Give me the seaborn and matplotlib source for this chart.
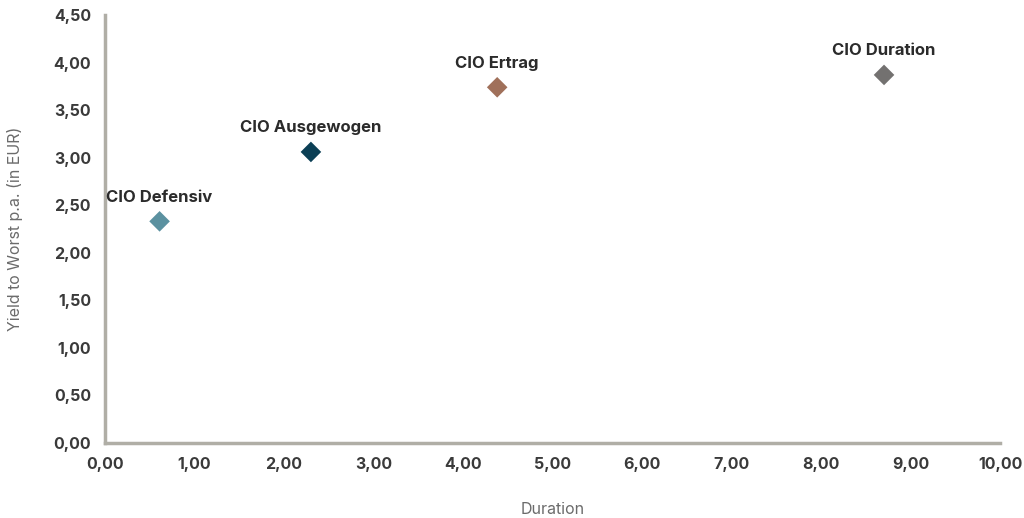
import matplotlib
matplotlib.use("Agg")
import matplotlib.pyplot as plt
import seaborn as sns
import pandas as pd

names = ["CIO Defensiv", "CIO Ausgewogen", "CIO Ertrag", "CIO Duration"]
duration = [0.61, 2.30, 4.38, 8.70]
ytw = [2.33, 3.06, 3.74, 3.87]
colors = ["#5b91a0", "#0b3f55", "#a0705a", "#737170"]
xticks = [0, 1, 2, 3, 4, 5, 6, 7, 8, 9, 10]
yticks = [0, 0.5, 1, 1.5, 2, 2.5, 3, 3.5, 4, 4.5]

sns.set_theme(style="white")
plt.rcParams['font.family'] = ['Inter', 'DejaVu Sans']

df = pd.DataFrame({"name": names, "Duration": duration, "YTW": ytw})

fig = plt.figure(figsize=(10.24, 5.18), dpi=100)
ax = fig.add_axes([0.1025, 0.145, 0.8745, 0.826])
sns.scatterplot(data=df, x="Duration", y="YTW", hue="name", palette=colors,
                marker="D", s=110, edgecolor="none", legend=False, ax=ax)

for n, x, y in zip(names, duration, ytw):
    ax.annotate(n, (x, y), xytext=(0, 12), textcoords="offset points",
                ha="center", va="bottom", fontsize=12, fontweight="bold", color="#2b2b2b")

ax.set_xlim(0, 10)
ax.set_ylim(0, 4.5)
ax.set_xticks(xticks)
ax.set_yticks(yticks)
ax.set_xticklabels([f"{v:.2f}".replace(".", ",") for v in xticks])
ax.set_yticklabels([f"{v:.2f}".replace(".", ",") for v in yticks])
ax.tick_params(axis="both", length=0, labelsize=11.5, labelcolor="#3a3a3a", pad=10)
for lab in ax.get_xticklabels() + ax.get_yticklabels():
    lab.set_fontweight("bold")

for s in ["top", "right"]:
    ax.spines[s].set_visible(False)
for s in ["left", "bottom"]:
    ax.spines[s].set_color("#b0aea6")
    ax.spines[s].set_linewidth(2.5)

ax.set_xlabel("Duration", fontsize=11.5, color="#6b6b6b", labelpad=22)
ax.set_ylabel("Yield to Worst p.a. (in EUR)", fontsize=11.5, color="#6b6b6b", labelpad=22)

fig.savefig("out.png", dpi=100)
